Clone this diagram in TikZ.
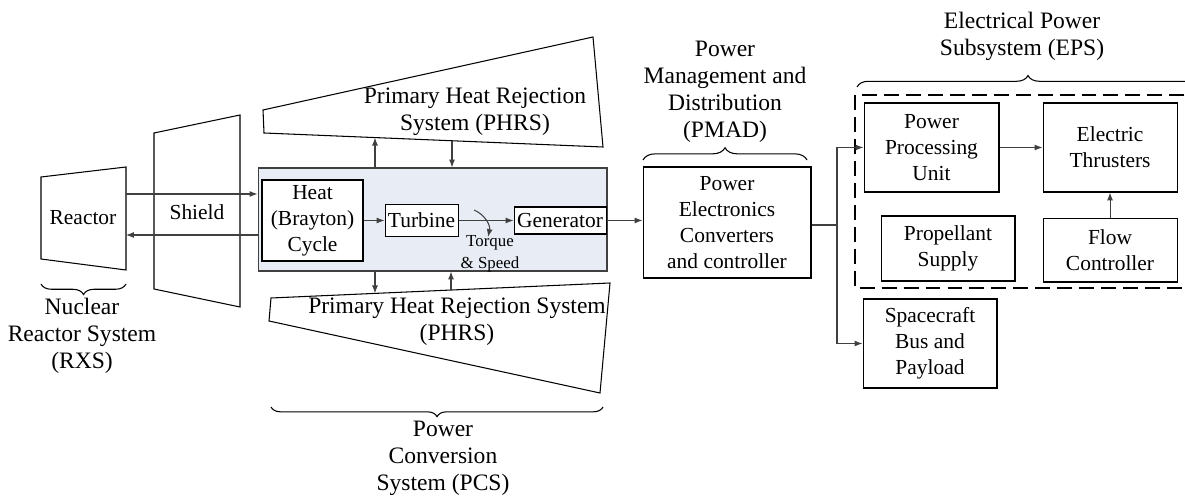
\documentclass[tikz,border=0pt]{standalone}
\usepackage{fontspec}
\setmainfont{LiberationSerif}[Extension=.ttf, UprightFont=*-Regular, BoldFont=*-Bold, ItalicFont=*-Italic]
\usetikzlibrary{arrows.meta, positioning, calc, decorations.pathreplacing}
\definecolor{pcsfill}{RGB}{232,237,245}
\definecolor{linegray}{RGB}{64,64,64}
\tikzstyle{block} = [rectangle, draw=black, line width=0.6pt, fill=white, align=center, inner sep=0pt, font=\fontsize{12.2}{14.8}\selectfont]
\tikzstyle{heading} = [align=center, inner sep=0pt, font=\fontsize{13.4}{15.4}\selectfont]
\tikzstyle{outline} = [draw=black, line width=0.6pt]
\tikzstyle{arrow} = [draw=linegray, line width=0.6pt, -{Latex[length=4.5pt,width=3.4pt]}]
\tikzstyle{curly} = [draw=black, line width=0.6pt, decorate, decoration={brace, amplitude=6pt}]
\tikzstyle{dashbox} = [draw=black, line width=1.4pt, dash pattern=on 8.5pt off 4pt]

\begin{document}
\begin{tikzpicture}[x=0.02cm, y=-0.02cm]
%frame
\clip (0,0) rectangle (1185,499);
%reactor and shield
\draw[outline] (41,177) -- (126,167) -- (126,270) -- (41,259) -- cycle;
\node[block, draw=none, fill=none] (reactor) at (83,218) {Reactor};
\draw[outline] (154,133) -- (240,115) -- (240,307) -- (154,289) -- cycle;
\node[block, draw=none, fill=none] (shield) at (197,212) {Shield};
\coordinate (rxout) at (126,194);
\coordinate (rxin) at (126,235);
\draw[curly] (126,284) -- (41,284);
\node[heading] (rxs) at (82,336) {Nuclear\\Reactor System\\(RXS)};

%heat rejection radiators
\draw[outline] (263,110) -- (593,37) -- (603,147) -- (264,133) -- cycle;
\node[heading] (phrstop) at (475,112) {Primary Heat Rejection\\System (PHRS)};
\coordinate (toptail) at (375,137.6);
\coordinate (tophead) at (452,140.7);
\draw[outline] (271,298) -- (610,283) -- (600,393) -- (269,321) -- cycle;
\node[heading] (phrsbot) at (457,322) {Primary Heat Rejection System\\(PHRS)};
\coordinate (bothead) at (375,293.4);
\coordinate (bottail) at (451,290);

%power conversion
\node[draw=linegray, fill=pcsfill, line width=0.6pt, minimum width=6.98cm, minimum height=2.06cm, inner sep=0pt] (pcs) at (432.5,219.5) {};
\node[block, minimum width=2.02cm, minimum height=1.62cm] (heat) at (312.5,220.5) {Heat\\(Brayton)\\Cycle};
\node[block, minimum width=1.46cm, minimum height=0.64cm, right=0.42cm of heat] (turbine) {Turbine};
\node[block, minimum width=1.84cm, minimum height=0.54cm, right=1.1cm of turbine] (generator) {Generator};
\coordinate (tq1) at (474,210);
\coordinate (tq2) at (488,237);
\node[align=center, inner sep=0pt, font=\fontsize{9.6}{12.5}\selectfont] (torque) at (490,254) {Torque\\\& Speed};
\draw[curly, decoration={brace, amplitude=5.5pt}] (603,407) -- (271,407);
\node[heading] (pcstext) at (443,458) {Power\\Conversion\\System (PCS)};

%PMAD
\node[block, minimum width=3.36cm, minimum height=2.22cm] (pmad) at (727,222.5) {Power\\Electronics\\Converters\\and controller};
\draw[curly, decoration={brace, amplitude=7pt}] (643,160) -- (807,160);
\node[heading] (pmadtext) at (725,91.5) {Power\\Management and\\Distribution\\(PMAD)};
\coordinate (split) at (837,225);

%EPS
\draw[dashbox] (855,95) rectangle (1200,288);
\draw[curly, decoration={brace, amplitude=6.5pt}] (857,87) -- (1199,87);
\node[heading] (epstext) at (1022,36) {Electrical Power\\Subsystem (EPS)};
\node[block, minimum width=2.7cm, minimum height=1.78cm] (ppu) at (931.5,147.5) {Power\\Processing\\Unit};
\node[block, minimum width=2.68cm, minimum height=1.78cm, right=0.86cm of ppu] (thruster) {Electric\\Thrusters};
\node[block, minimum width=2.68cm, minimum height=1.3cm] (propellant) at (948,248.5) {Propellant\\Supply};
\node[block, minimum width=2.68cm, minimum height=1.28cm, below=0.5cm of thruster] (flow) {Flow\\Controller};
\node[block, minimum width=2.68cm, minimum height=1.78cm] (bus) at (930,343.5) {Spacecraft\\Bus and\\Payload};

%arrows
\draw[arrow] (rxout) -- (rxout -| pcs.west);
\draw[arrow] (rxin -| pcs.west) -- (rxin);
\draw[arrow] (toptail |- pcs.north) -- (toptail);
\draw[arrow] (tophead) -- (tophead |- pcs.north);
\draw[arrow] (bothead |- pcs.south) -- (bothead);
\draw[arrow] (bottail) -- (bottail |- pcs.south);
\draw[arrow] (heat) -- (turbine);
\draw[arrow] (turbine) -- (generator);
\draw[arrow] (tq1) to[bend left=40] (tq2);
\draw[arrow] (generator.east) -- (generator.east -| pmad.west);
\draw[draw=linegray, line width=0.6pt] (split -| pmad.east) -- (split);
\draw[arrow] (split) |- (ppu.west);
\draw[arrow] (split) |- (bus.west);
\draw[arrow] (ppu) -- (thruster);
\draw[arrow] (flow) -- (thruster);
\end{tikzpicture}
\end{document}
